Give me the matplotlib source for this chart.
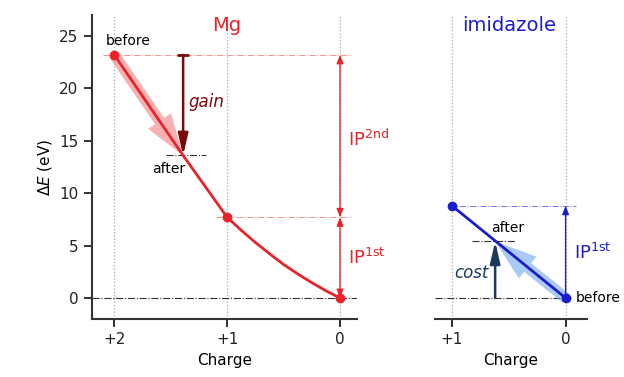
import numpy as np
import matplotlib
matplotlib.use('Agg')
import matplotlib.pyplot as plt

# data
mg_q = [2, 1.39, 1, 0.875, 0.75, 0.625, 0.5, 0.375, 0.25, 0.125, 0]
mg_E = [23.2, 13.6, 7.7, 6.46, 5.3, 4.23, 3.2, 2.3, 1.46, 0.69, 0]
mg_pts_q = [2, 1, 0]
mg_pts_E = [23.2, 7.7, 0]
mg_after = (1.39, 13.6)

im_q = [1, 0]
im_E = [8.8, 0]
im_after = (0.62, 5.4)

red = '#e8232a'
dred = '#7a0a0a'
blue = '#1c1ccc'
navy = '#1b3a5e'

plt.rcParams['font.family'] = ['DejaVu Sans']
fig = plt.figure(figsize=(6.24, 3.77), dpi=100)
ax1 = fig.add_axes([0.147, 0.154, 0.425, 0.806])
ax2 = fig.add_axes([0.697, 0.154, 0.244, 0.806])

for ax in (ax1, ax2):
    ax.set_ylim(-2, 27)
    for s in ['top', 'right']:
        ax.spines[s].set_visible(False)
    ax.spines['bottom'].set_linewidth(1.5)
    ax.spines['left'].set_linewidth(1.5)
    ax.spines['bottom'].set_color('#333333')
    ax.spines['left'].set_color('#333333')
    ax.tick_params(width=1.3, length=6, labelsize=11, colors='#222222')
    ax.set_xlabel('Charge', fontsize=11)

big_arrow = 'simple,head_length=1.5,head_width=1.0,tail_width=0.4'

# ---- Mg panel
ax1.set_xlim(2.2, -0.15)
ax1.set_xticks([2, 1, 0])
ax1.set_xticklabels(['+2', '+1', '0'])
ax1.set_yticks([0, 5, 10, 15, 20, 25])
ax1.set_ylabel(r'$\Delta E$ (eV)', fontsize=11)

for q in mg_pts_q:
    ax1.axvline(q, color='#aaaaaa', ls=':', lw=0.9, zorder=0)
ax1.axhline(0, color='#333333', ls='-.', lw=0.8, zorder=1)
ax1.plot([2.1, -0.1], [mg_pts_E[0]] * 2, color=red, ls='-.', lw=0.7, alpha=0.5)
ax1.plot([1.1, -0.1], [mg_pts_E[1]] * 2, color=red, ls='-.', lw=0.7, alpha=0.5)
ax1.plot([mg_after[0] + 0.15, mg_after[0] - 0.2], [mg_after[1]] * 2, color='#333333', ls='-.', lw=0.8)

ax1.annotate('', xy=mg_after, xytext=(mg_pts_q[0], mg_pts_E[0]),
             arrowprops=dict(arrowstyle=big_arrow, mutation_scale=20,
                             color='#f08080', alpha=0.6, lw=0, shrinkA=0, shrinkB=0), zorder=2)
ax1.plot(mg_q, mg_E, color=red, lw=2, zorder=3)
ax1.plot(mg_pts_q, mg_pts_E, 'o', color=red, ms=6, zorder=4)

ax1.annotate('', xy=(mg_after[0], mg_after[1]), xytext=(mg_after[0], mg_pts_E[0]),
             arrowprops=dict(arrowstyle='-|>,head_length=1.3,head_width=0.3',
                             color=dred, lw=1.8, shrinkA=0, shrinkB=0), zorder=5)
ax1.plot([mg_after[0]], [mg_pts_E[0]], marker='_', ms=8, mew=2, color=dred, zorder=5)
ax1.text(1.34, 18.7, 'gain', color=dred, fontsize=12, style='italic', ha='left', va='center')

ax1.annotate('', xy=(0, mg_pts_E[1]), xytext=(0, 0),
             arrowprops=dict(arrowstyle='<|-|>,head_length=0.5,head_width=0.2',
                             color=red, lw=1, shrinkA=0, shrinkB=0))
ax1.annotate('', xy=(0, mg_pts_E[0]), xytext=(0, mg_pts_E[1]),
             arrowprops=dict(arrowstyle='<|-|>,head_length=0.5,head_width=0.2',
                             color=red, lw=1, shrinkA=0, shrinkB=0))
ax1.text(-0.07, 15.2, r'IP$^{\rm 2nd}$', color=red, fontsize=13, ha='left', va='center')
ax1.text(-0.07, 3.8, r'IP$^{\rm 1st}$', color=red, fontsize=13, ha='left', va='center')

ax1.text(1.0, 26, 'Mg', color=red, fontsize=14, ha='center', va='center')
ax1.text(1.88, 24.5, 'before', fontsize=10, ha='center', va='center')
ax1.text(1.52, 12.3, 'after', fontsize=10, ha='center', va='center')

# ---- imidazole panel
ax2.set_xlim(1.15, -0.19)
ax2.set_xticks([1, 0])
ax2.set_xticklabels(['+1', '0'])
ax2.spines['left'].set_visible(False)
ax2.set_yticks([])

for q in im_q:
    ax2.axvline(q, color='#aaaaaa', ls=':', lw=0.9, zorder=0)
ax2.plot([1.15, -0.05], [0, 0], color='#333333', ls='-.', lw=0.8, zorder=1)
ax2.plot([1.03, -0.09], [im_E[0]] * 2, color=blue, ls='-.', lw=0.7, alpha=0.6)
ax2.plot([im_after[0] + 0.2, im_after[0] - 0.18], [im_after[1]] * 2, color='#333333', ls='-.', lw=0.8)

ax2.annotate('', xy=im_after, xytext=(im_q[1], im_E[1]),
             arrowprops=dict(arrowstyle=big_arrow, mutation_scale=20,
                             color='#6fa8ef', alpha=0.6, lw=0, shrinkA=0, shrinkB=0), zorder=2)
ax2.plot(im_q, im_E, color=blue, lw=2, zorder=3)
ax2.plot(im_q, im_E, 'o', color=blue, ms=6, zorder=4)

ax2.annotate('', xy=(im_after[0], im_after[1]), xytext=(im_after[0], 0),
             arrowprops=dict(arrowstyle='-|>,head_length=1.3,head_width=0.3',
                             color=navy, lw=1.8, shrinkA=0, shrinkB=0), zorder=5)
ax2.text(0.83, 2.4, 'cost', color=navy, fontsize=12, style='italic', ha='center', va='center')

ax2.annotate('', xy=(0, im_E[0]), xytext=(0, 0),
             arrowprops=dict(arrowstyle='-|>,head_length=0.5,head_width=0.2',
                             color=blue, lw=1, shrinkA=0, shrinkB=0))
ax2.text(-0.07, 4.3, r'IP$^{\rm 1st}$', color=blue, fontsize=13, ha='left', va='center')

ax2.text(0.5, 26, 'imidazole', color=blue, fontsize=14, ha='center', va='center')
ax2.text(0.51, 6.7, 'after', fontsize=10, ha='center', va='center')
ax2.text(-0.09, 0, 'before', fontsize=10, ha='left', va='center', clip_on=False)

fig.savefig('out.png', dpi=100)
